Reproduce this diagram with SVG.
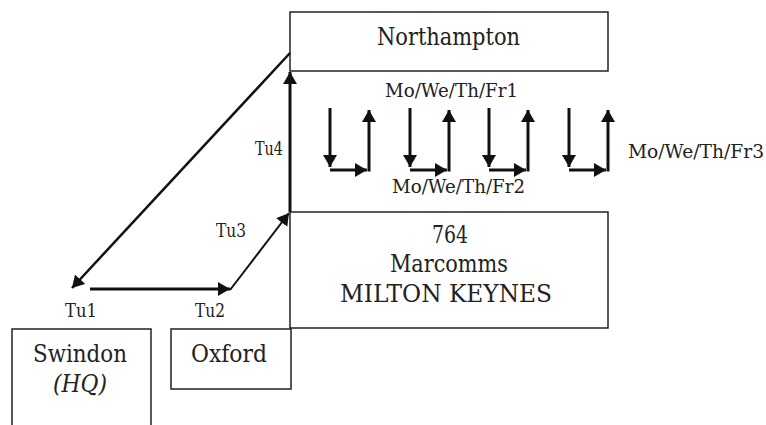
<svg xmlns="http://www.w3.org/2000/svg" width="766" height="425" viewBox="0 0 766 425">
<defs>
<marker id="ah" markerUnits="userSpaceOnUse" markerWidth="16" markerHeight="16" refX="12" refY="7" orient="auto">
<path d="M0,0 L12,7 L0,14 z" fill="#111"/>
</marker>
<style>
.box{fill:#fff;stroke:#222;stroke-width:1.5}
text{fill:#222}
.big{font-size:24px}
.sm{font-size:18px}
.c{stroke:#111;fill:none}
</style>
</defs>
<rect width="766" height="425" fill="#fff"/>
<g font-family="'DejaVu Serif', 'Liberation Serif', serif">
<g id="northampton">
<rect class="box" x="290" y="12" width="318" height="59"/>
<text class="big" x="377" y="45" textLength="143" lengthAdjust="spacingAndGlyphs">Northampton</text>
</g>
<g id="milton-keynes">
<rect class="box" x="290" y="212" width="318" height="116"/>
<text class="big" x="432" y="243" textLength="36" lengthAdjust="spacingAndGlyphs">764</text>
<text class="big" x="390" y="272" textLength="118" lengthAdjust="spacingAndGlyphs">Marcomms</text>
<text class="big" x="340" y="302" textLength="212" lengthAdjust="spacingAndGlyphs">MILTON KEYNES</text>
</g>
<g id="swindon">
<rect class="box" x="12" y="329" width="139" height="110"/>
<text class="big" x="33" y="362" textLength="94" lengthAdjust="spacingAndGlyphs">Swindon</text>
<text class="big" x="53" y="392" font-style="italic" textLength="54" lengthAdjust="spacingAndGlyphs">(HQ)</text>
</g>
<g id="oxford">
<rect class="box" x="171" y="329" width="120" height="60"/>
<text class="big" x="191" y="362" textLength="76" lengthAdjust="spacingAndGlyphs">Oxford</text>
</g>
<g id="connectors">
<line class="c" x1="290" y1="53" x2="72" y2="288" stroke-width="2.5" marker-end="url(#ah)"/>
<line class="c" x1="90" y1="289" x2="230" y2="289" stroke-width="3" marker-end="url(#ah)"/>
<line class="c" x1="230" y1="290" x2="289" y2="213" stroke-width="2" marker-end="url(#ah)"/>
<line class="c" x1="290" y1="212" x2="290" y2="72" stroke-width="3" marker-end="url(#ah)"/>
<g stroke-width="3">
<line class="c" x1="330" y1="108" x2="330" y2="167" marker-end="url(#ah)"/>
<line class="c" x1="330" y1="170" x2="367" y2="170" marker-end="url(#ah)"/>
<line class="c" x1="369" y1="171.5" x2="369" y2="110" marker-end="url(#ah)"/>
<line class="c" x1="410" y1="108" x2="410" y2="167" marker-end="url(#ah)"/>
<line class="c" x1="410" y1="170" x2="447" y2="170" marker-end="url(#ah)"/>
<line class="c" x1="449" y1="171.5" x2="449" y2="110" marker-end="url(#ah)"/>
<line class="c" x1="489" y1="108" x2="489" y2="167" marker-end="url(#ah)"/>
<line class="c" x1="489" y1="170" x2="526" y2="170" marker-end="url(#ah)"/>
<line class="c" x1="528" y1="171.5" x2="528" y2="110" marker-end="url(#ah)"/>
<line class="c" x1="569" y1="108" x2="569" y2="167" marker-end="url(#ah)"/>
<line class="c" x1="569" y1="170" x2="606" y2="170" marker-end="url(#ah)"/>
<line class="c" x1="608" y1="171.5" x2="608" y2="110" marker-end="url(#ah)"/>
</g>
</g>
<g id="labels">
<text class="sm" x="65" y="317" textLength="32" lengthAdjust="spacingAndGlyphs">Tu1</text>
<text class="sm" x="195" y="317" textLength="30" lengthAdjust="spacingAndGlyphs">Tu2</text>
<text class="sm" x="216" y="237" textLength="30" lengthAdjust="spacingAndGlyphs">Tu3</text>
<text class="sm" x="255" y="155" textLength="28" lengthAdjust="spacingAndGlyphs">Tu4</text>
<text class="sm" x="385" y="97" textLength="133" lengthAdjust="spacingAndGlyphs">Mo/We/Th/Fr1</text>
<text class="sm" x="392" y="193" textLength="133" lengthAdjust="spacingAndGlyphs">Mo/We/Th/Fr2</text>
<text class="sm" x="628" y="158" textLength="136" lengthAdjust="spacingAndGlyphs">Mo/We/Th/Fr3</text>
</g>
</g>
</svg>
